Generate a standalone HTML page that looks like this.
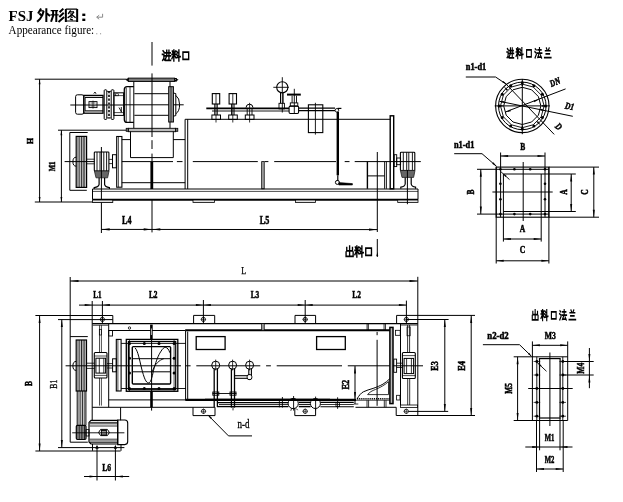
<!DOCTYPE html>
<html><head><meta charset="utf-8"><title>FSJ</title>
<style>
html,body{margin:0;padding:0;background:#fff;}
body{width:623px;height:502px;overflow:hidden;font-family:"Liberation Serif",serif;}
svg{display:block;position:absolute;left:0;top:0;will-change:transform;}
</style></head><body>
<svg width="623" height="502" viewBox="0 0 623 502">
<rect x="0" y="0" width="623" height="502" fill="#fff"/>
<text x="8.6" y="20.8" font-family="Liberation Serif, serif" font-size="14.6" font-weight="bold" text-anchor="start" fill="#000" textLength="24.8" lengthAdjust="spacingAndGlyphs">FSJ</text>
<path d="M3.4,0.2 L1.2,3.8 M5.3,1.9 L4.3,5 L2.6,7.8 L0.5,9.8 M2.2,3.8 L3.9,5.6 M7.2,0 L7.2,10 M7.4,3.6 L9.9,5.6" transform="translate(36.40 8.2) scale(1.380)" fill="none" stroke="#000" stroke-width="1.45" stroke-linecap="butt"/>
<path d="M2.8,1.9 L5.3,1.9" transform="translate(36.40 8.2) scale(1.380)" fill="none" stroke="#000" stroke-width="0.87" stroke-linecap="butt"/>
<path d="M1.9,1.7 L1.9,5.6 L0.4,9.8 M4.2,1.7 L4.2,10 M9.3,0.3 L6.6,2.9 M9.6,3.3 L6.4,6.4 M9.9,6.3 L5.8,10" transform="translate(50.50 8.2) scale(1.380)" fill="none" stroke="#000" stroke-width="1.45" stroke-linecap="butt"/>
<path d="M0.1,1.7 L5.5,1.7 M0,4.9 L5.9,4.9" transform="translate(50.50 8.2) scale(1.380)" fill="none" stroke="#000" stroke-width="0.87" stroke-linecap="butt"/>
<path d="M0.9,0.5 L0.9,10 M9.1,0.5 L9.1,10" transform="translate(64.60 8.2) scale(1.380)" fill="none" stroke="#000" stroke-width="1.45" stroke-linecap="butt"/>
<path d="M0.9,0.7 L9.1,0.7 M0.9,9.3 L9.1,9.3 M3.8,2.7 L6.8,2.7" transform="translate(64.60 8.2) scale(1.380)" fill="none" stroke="#000" stroke-width="0.80" stroke-linecap="butt"/>
<path d="M4.4,1.5 L2.6,4.2 M6.8,2.7 L5,5 L2.2,7 M4.2,3.8 L8,6.9 M4.4,6.1 L5.8,6.9 M3.8,7.7 L6,8.6" transform="translate(64.60 8.2) scale(1.380)" fill="none" stroke="#000" stroke-width="1.01" stroke-linecap="butt"/>
<rect x="82.3" y="13.6" width="3.00" height="2.40" rx="0" fill="#000" stroke="none" stroke-width="0"/>
<rect x="82.3" y="18.6" width="3.00" height="2.40" rx="0" fill="#000" stroke="none" stroke-width="0"/>
<path d="M102.6,13.8 L102.6,17.2 L97,17.2 M99.2,15.2 L96.6,17.2 L99.2,19.2" fill="none" stroke="#8a8a8a" stroke-width="1" />
<text x="8.6" y="34.2" font-family="Liberation Serif, serif" font-size="12" font-weight="normal" text-anchor="start" fill="#000" textLength="85.6" lengthAdjust="spacingAndGlyphs">Appearance figure:</text>
<rect x="96.2" y="33.2" width="1.10" height="1.10" rx="0" fill="#999" stroke="none" stroke-width="0"/>
<rect x="100" y="33.2" width="1.10" height="1.10" rx="0" fill="#999" stroke="none" stroke-width="0"/>
<line x1="34.8" y1="79.2" x2="126.7" y2="79.2" stroke="#000" stroke-width="1"/>
<line x1="39.6" y1="79.2" x2="39.6" y2="202" stroke="#000" stroke-width="1"/>
<line x1="34.8" y1="202" x2="113" y2="202" stroke="#000" stroke-width="1"/>
<polygon points="39.6,79.2 38.7,84.2 40.5,84.2" fill="#000"/>
<polygon points="39.6,202 38.7,197 40.5,197" fill="#000"/>
<line x1="58" y1="130.2" x2="126.7" y2="130.2" stroke="#000" stroke-width="1"/>
<line x1="61.4" y1="130.2" x2="61.4" y2="202" stroke="#000" stroke-width="1"/>
<polygon points="61.4,130.2 60.5,135.2 62.3,135.2" fill="#000"/>
<polygon points="61.4,202 60.5,197 62.3,197" fill="#000"/>
<text x="33.2" y="141" font-family="Liberation Serif, serif" font-size="9" font-weight="bold" text-anchor="middle" fill="#000" stroke="#000" stroke-width="0.5" textLength="6" lengthAdjust="spacingAndGlyphs" transform="rotate(-90 33.2 141)">H</text>
<text x="55" y="166.5" font-family="Liberation Serif, serif" font-size="9" font-weight="bold" text-anchor="middle" fill="#000" stroke="#000" stroke-width="0.5" textLength="9.5" lengthAdjust="spacingAndGlyphs" transform="rotate(-90 55 166.5)">M1</text>
<path d="M87.7,132.5 L69.8,132.5 L69.8,190.3 L86.8,190.3" fill="none" stroke="#000" stroke-width="1" />
<rect x="76.2" y="136.4" width="10.40" height="51.00" rx="0" fill="none" stroke="#000" stroke-width="1.2"/>
<line x1="78" y1="136.4" x2="78" y2="187.4" stroke="#000" stroke-width="0.85"/>
<line x1="79.8" y1="136.4" x2="79.8" y2="187.4" stroke="#000" stroke-width="0.85"/>
<line x1="81.6" y1="136.4" x2="81.6" y2="187.4" stroke="#000" stroke-width="0.85"/>
<line x1="83.2" y1="136.4" x2="83.2" y2="187.4" stroke="#000" stroke-width="0.85"/>
<line x1="84.8" y1="136.4" x2="84.8" y2="187.4" stroke="#000" stroke-width="0.85"/>
<path d="M76.2,157.2 A3.3,4.5 0 0 0 76.2,166.2" fill="none" stroke="#000" stroke-width="1" />
<line x1="64.6" y1="161.6" x2="94.5" y2="161.6" stroke="#000" stroke-width="1"/>
<line x1="86.6" y1="159.2" x2="94.5" y2="159.2" stroke="#000" stroke-width="0.8"/>
<line x1="86.6" y1="163.8" x2="94.5" y2="163.8" stroke="#000" stroke-width="0.8"/>
<rect x="94.3" y="152" width="14.60" height="19.00" rx="0.8" fill="none" stroke="#000" stroke-width="1.1"/>
<line x1="97" y1="152" x2="97" y2="171" stroke="#000" stroke-width="0.9"/>
<line x1="100" y1="152" x2="100" y2="171" stroke="#000" stroke-width="0.9"/>
<line x1="103.8" y1="152" x2="103.8" y2="171" stroke="#000" stroke-width="0.9"/>
<line x1="106.6" y1="152" x2="106.6" y2="171" stroke="#000" stroke-width="0.9"/>
<path d="M94.4,171 L109,171 L107.6,177.8 L96,177.8 Z" fill="#666" stroke="#222" stroke-width="0.8" />
<path d="M99.1,177.8 L99.1,184.4 Q98.7,187 94.2,187.6 L94.2,189 M104.6,177.8 L104.6,184.4 Q105,187 109.4,187.6 L109.4,189" fill="none" stroke="#000" stroke-width="1.2" />
<line x1="101.4" y1="147" x2="101.4" y2="233" stroke="#000" stroke-width="1"/>
<line x1="109" y1="159.4" x2="112.5" y2="159.4" stroke="#000" stroke-width="0.8"/>
<line x1="109" y1="163.6" x2="112.5" y2="163.6" stroke="#000" stroke-width="0.8"/>
<rect x="112.5" y="154.7" width="3.80" height="13.10" rx="0" fill="none" stroke="#000" stroke-width="1"/>
<rect x="116.7" y="136.5" width="5.20" height="50.70" rx="0" fill="none" stroke="#000" stroke-width="1.1"/>
<line x1="118.4" y1="136.5" x2="118.4" y2="187.2" stroke="#000" stroke-width="0.7"/>
<rect x="75.6" y="94.8" width="8.20" height="19.40" rx="1.8" fill="none" stroke="#000" stroke-width="1"/>
<rect x="83.8" y="95.4" width="19.20" height="17.80" rx="0" fill="none" stroke="#000" stroke-width="1.3"/>
<line x1="85" y1="97.4" x2="103" y2="97.4" stroke="#000" stroke-width="1.1"/>
<line x1="85" y1="110.9" x2="103" y2="110.9" stroke="#000" stroke-width="1.1"/>
<line x1="85.2" y1="97.4" x2="85.2" y2="110.9" stroke="#000" stroke-width="0.8"/>
<rect x="89" y="101.6" width="8.00" height="6.00" rx="0" fill="none" stroke="#000" stroke-width="0.9"/>
<line x1="93" y1="100.6" x2="93" y2="108.6" stroke="#000" stroke-width="0.7"/>
<line x1="90.5" y1="103" x2="95.5" y2="103" stroke="#000" stroke-width="0.6"/>
<line x1="90.5" y1="106" x2="95.5" y2="106" stroke="#000" stroke-width="0.6"/>
<path d="M93.8,93.6 L95,92 L96,93.8" fill="none" stroke="#000" stroke-width="0.9" />
<line x1="70.3" y1="105" x2="124.2" y2="105" stroke="#000" stroke-width="1"/>
<rect x="104.2" y="89.8" width="2.60" height="29.60" rx="0.8" fill="none" stroke="#000" stroke-width="1"/>
<rect x="111.2" y="89.8" width="2.70" height="29.60" rx="0.8" fill="none" stroke="#000" stroke-width="1"/>
<line x1="109" y1="91" x2="109" y2="118.4" stroke="#000" stroke-width="1.6" stroke-dasharray="2.2 1.6"/>
<line x1="106.8" y1="91.5" x2="111.2" y2="91.5" stroke="#000" stroke-width="0.7"/>
<line x1="106.8" y1="117.8" x2="111.2" y2="117.8" stroke="#000" stroke-width="0.7"/>
<rect x="113.9" y="92.8" width="9.70" height="22.60" rx="0" fill="none" stroke="#000" stroke-width="1"/>
<line x1="113.9" y1="95.6" x2="123.6" y2="95.6" stroke="#000" stroke-width="0.7"/>
<line x1="113.9" y1="112.6" x2="123.6" y2="112.6" stroke="#000" stroke-width="0.7"/>
<path d="M119,107.5 L121.5,112 M121.3,107 L121.3,112.4" fill="none" stroke="#000" stroke-width="0.9" />
<rect x="115.5" y="93.8" width="2.90" height="2.00" rx="0" fill="none" stroke="#000" stroke-width="0.6"/>
<path d="M133.8,86.6 L127.2,86.6 Q124.3,86.6 124.3,89.6 L124.3,119.4 Q124.3,122.4 127.2,122.4 L133.8,122.4" fill="none" stroke="#000" stroke-width="1.3" />
<line x1="126.2" y1="87.6" x2="126.2" y2="121.8" stroke="#000" stroke-width="0.8"/>
<line x1="130" y1="87" x2="130" y2="122.4" stroke="#000" stroke-width="0.8"/>
<rect x="128.3" y="78.1" width="46.30" height="3.40" rx="0" fill="#777" stroke="#000" stroke-width="0.9"/>
<polygon points="125.4,79.8 128.6,77.8 128.6,81.8" fill="#000"/>
<rect x="174.6" y="78.4" width="1.80" height="2.80" rx="0" fill="#777" stroke="#000" stroke-width="0.8"/>
<polygon points="178.6,79.8 176.2,78.39999999999999 176.2,81.2" fill="#000"/>
<rect x="128.3" y="128.3" width="47.30" height="3.40" rx="0" fill="#bbb" stroke="#000" stroke-width="0.9"/>
<rect x="126.2" y="128.3" width="2.10" height="3.00" rx="0" fill="#777" stroke="#000" stroke-width="0.8"/>
<rect x="175.6" y="128.3" width="2.20" height="3.00" rx="0" fill="#777" stroke="#000" stroke-width="0.8"/>
<line x1="133.8" y1="81.5" x2="133.8" y2="128.1" stroke="#000" stroke-width="1"/>
<line x1="170" y1="81.5" x2="170" y2="128.1" stroke="#000" stroke-width="1"/>
<line x1="134.4" y1="93.7" x2="168.7" y2="93.7" stroke="#000" stroke-width="1"/>
<line x1="134.4" y1="115.3" x2="168.7" y2="115.3" stroke="#000" stroke-width="1"/>
<line x1="124.2" y1="104.8" x2="183.7" y2="104.8" stroke="#000" stroke-width="1"/>
<rect x="168.7" y="86.7" width="4.70" height="35.30" rx="0" fill="#999" stroke="#000" stroke-width="1"/>
<line x1="171" y1="86.7" x2="171" y2="122" stroke="#000" stroke-width="0.7"/>
<path d="M173.4,93 L175.8,93.6 L175.8,115.6 L173.4,116.2 M175.8,95.4 Q179.6,98 179.6,104.6 Q179.6,111.4 175.8,113.8" fill="none" stroke="#000" stroke-width="1" />
<line x1="152" y1="42" x2="152" y2="65.6" stroke="#000" stroke-width="1"/>
<line x1="152" y1="73.4" x2="152" y2="137" stroke="#000" stroke-width="1"/>
<line x1="152" y1="140.2" x2="152" y2="149" stroke="#000" stroke-width="1"/>
<line x1="152" y1="153.6" x2="152" y2="162" stroke="#000" stroke-width="1"/>
<path d="M1,0.8 L2.2,2 M0.2,4 L2,4 L2,8 L0.6,9.4 M1.6,8.2 L3.4,9.5 L10,9.5 M3.6,2.6 L9.6,2.6 M3.2,5.4 L10,5.4 M5.4,0.4 L5.4,5.4 L4,8 M8,0.4 L8,8.4" transform="translate(162.20 50) scale(0.842 1.080)" fill="none" stroke="#000" stroke-width="1.62" stroke-linecap="square"/>
<path d="M2.3,0 L2.3,10 M0,4 L4.8,4 M0.5,1 L1.4,3 M4.2,1 L3.3,3 M2.3,4.2 L0,8 M2.3,4.2 L4.6,7 M5.8,1.4 L6.9,2.6 M5.5,4 L6.6,5.1 M5,7.2 L10,6.2 M8.3,0 L8.3,10" transform="translate(171.90 50) scale(0.842 1.080)" fill="none" stroke="#000" stroke-width="1.62" stroke-linecap="square"/>
<path d="M1.6,2 L8.4,2 L8.4,8.6 L1.6,8.6 Z" transform="translate(181.60 50) scale(0.842 1.080)" fill="none" stroke="#000" stroke-width="1.62" stroke-linecap="square"/>
<path d="M130.5,131.5 L130.5,157.6 L173.3,157.6 L173.3,131.5" fill="none" stroke="#000" stroke-width="1" />
<line x1="121.8" y1="139.6" x2="130.6" y2="139.6" stroke="#000" stroke-width="1"/>
<line x1="173.2" y1="139.6" x2="185.1" y2="139.6" stroke="#000" stroke-width="1"/>
<line x1="121.8" y1="182.7" x2="185.1" y2="182.7" stroke="#000" stroke-width="1"/>
<line x1="151.8" y1="162" x2="151.8" y2="189" stroke="#000" stroke-width="2.8"/>
<line x1="185.1" y1="119.3" x2="185.1" y2="189" stroke="#000" stroke-width="1"/>
<line x1="187.7" y1="119.3" x2="187.7" y2="189" stroke="#000" stroke-width="1"/>
<line x1="185.1" y1="119.3" x2="390.6" y2="119.3" stroke="#000" stroke-width="1"/>
<rect x="390.2" y="115.8" width="3.50" height="73.00" rx="0" fill="none" stroke="#000" stroke-width="1.4"/>
<line x1="121.9" y1="161.6" x2="173" y2="161.6" stroke="#000" stroke-width="1"/>
<line x1="176.9" y1="161.6" x2="182.5" y2="161.6" stroke="#000" stroke-width="1"/>
<line x1="192.8" y1="161.6" x2="257.8" y2="161.6" stroke="#000" stroke-width="1"/>
<line x1="264.5" y1="161.6" x2="268.4" y2="161.6" stroke="#000" stroke-width="1"/>
<line x1="274.2" y1="161.6" x2="336" y2="161.6" stroke="#000" stroke-width="1"/>
<line x1="344.7" y1="161.6" x2="349.5" y2="161.6" stroke="#000" stroke-width="1"/>
<line x1="354.7" y1="161.6" x2="420.8" y2="161.6" stroke="#000" stroke-width="1"/>
<rect x="261.7" y="161.6" width="2.50" height="27.20" rx="0" fill="#aaa" stroke="#000" stroke-width="0.8"/>
<line x1="92.5" y1="189" x2="418" y2="189" stroke="#000" stroke-width="1"/>
<line x1="92.5" y1="191.4" x2="418" y2="191.4" stroke="#000" stroke-width="0.7"/>
<line x1="92.5" y1="199.8" x2="418" y2="199.8" stroke="#000" stroke-width="2"/>
<line x1="92.5" y1="189" x2="92.5" y2="199.5" stroke="#000" stroke-width="1"/>
<line x1="418" y1="189" x2="418" y2="199.5" stroke="#000" stroke-width="1"/>
<rect x="92.5" y="200" width="20.30" height="2.40" rx="0" fill="#e4e4e4" stroke="#000" stroke-width="0.8"/>
<rect x="193" y="200" width="21.40" height="2.40" rx="0" fill="#e4e4e4" stroke="#000" stroke-width="0.8"/>
<rect x="295.4" y="200" width="20.10" height="2.40" rx="0" fill="#e4e4e4" stroke="#000" stroke-width="0.8"/>
<rect x="397.7" y="200" width="20.30" height="2.40" rx="0" fill="#e4e4e4" stroke="#000" stroke-width="0.8"/>
<rect x="212.3" y="93.6" width="7.40" height="10.40" rx="0" fill="none" stroke="#000" stroke-width="1.1"/>
<line x1="214.7" y1="104" x2="214.7" y2="115" stroke="#000" stroke-width="0.9"/>
<line x1="217.3" y1="104" x2="217.3" y2="115" stroke="#000" stroke-width="0.9"/>
<rect x="211.9" y="115" width="8.60" height="4.40" rx="0" fill="none" stroke="#000" stroke-width="1"/>
<line x1="216" y1="93.6" x2="216" y2="122.5" stroke="#000" stroke-width="0.8"/>
<rect x="229.10000000000002" y="93.6" width="7.40" height="10.40" rx="0" fill="none" stroke="#000" stroke-width="1.1"/>
<line x1="231.5" y1="104" x2="231.5" y2="115" stroke="#000" stroke-width="0.9"/>
<line x1="234.10000000000002" y1="104" x2="234.10000000000002" y2="115" stroke="#000" stroke-width="0.9"/>
<rect x="228.70000000000002" y="115" width="8.60" height="4.40" rx="0" fill="none" stroke="#000" stroke-width="1"/>
<line x1="232.8" y1="93.6" x2="232.8" y2="122.5" stroke="#000" stroke-width="0.8"/>
<line x1="206.3" y1="108.4" x2="289" y2="108.4" stroke="#000" stroke-width="1.9"/>
<line x1="212" y1="111" x2="289" y2="111" stroke="#000" stroke-width="0.9"/>
<line x1="298.6" y1="108.2" x2="335" y2="108.2" stroke="#000" stroke-width="1.2"/>
<line x1="298.6" y1="110.7" x2="335" y2="110.7" stroke="#000" stroke-width="1.2"/>
<path d="M246,107.6 Q246.2,104.2 249.5,104.2 Q252.8,104.2 253,107.6" fill="none" stroke="#000" stroke-width="1" />
<line x1="247.2" y1="109" x2="247.2" y2="115" stroke="#000" stroke-width="0.9"/>
<line x1="252" y1="109" x2="252" y2="115" stroke="#000" stroke-width="0.9"/>
<rect x="245.3" y="115" width="8.70" height="4.40" rx="0" fill="none" stroke="#000" stroke-width="1"/>
<line x1="249.6" y1="102.8" x2="249.6" y2="122.5" stroke="#000" stroke-width="0.8"/>
<circle cx="282.3" cy="87.3" r="5.6" fill="none" stroke="#000" stroke-width="1.1"/>
<line x1="273.3" y1="87.3" x2="288.9" y2="87.3" stroke="#000" stroke-width="0.9"/>
<line x1="282.3" y1="77.2" x2="282.3" y2="112.5" stroke="#000" stroke-width="0.9"/>
<line x1="280.5" y1="93" x2="280.5" y2="103.3" stroke="#000" stroke-width="1"/>
<line x1="283.1" y1="93" x2="283.1" y2="103.3" stroke="#000" stroke-width="1"/>
<rect x="279" y="103.3" width="5.40" height="5.60" rx="0" fill="none" stroke="#000" stroke-width="0.9"/>
<line x1="287" y1="94.6" x2="300.8" y2="94.6" stroke="#000" stroke-width="2"/>
<line x1="294.3" y1="88.8" x2="294.3" y2="113" stroke="#000" stroke-width="0.9"/>
<line x1="292.1" y1="95.7" x2="292.1" y2="102.9" stroke="#000" stroke-width="0.9"/>
<line x1="296.5" y1="95.7" x2="296.5" y2="102.9" stroke="#000" stroke-width="0.9"/>
<rect x="290.3" y="102.9" width="7.50" height="3.20" rx="0" fill="none" stroke="#000" stroke-width="0.9"/>
<rect x="289.1" y="106.1" width="9.50" height="7.40" rx="1.2" fill="none" stroke="#000" stroke-width="1.1"/>
<rect x="308.4" y="104.8" width="14.40" height="27.80" rx="0" fill="none" stroke="#000" stroke-width="1.1"/>
<line x1="315.4" y1="102.8" x2="315.4" y2="134.6" stroke="#000" stroke-width="0.9"/>
<line x1="337.8" y1="112" x2="337.8" y2="175.3" stroke="#000" stroke-width="2.4"/>
<line x1="337.8" y1="175.3" x2="337.8" y2="181" stroke="#000" stroke-width="1.2"/>
<circle cx="337.4" cy="182.4" r="2" fill="none" stroke="#000" stroke-width="1"/>
<path d="M338.8,182.6 L352.4,183.6 L352.4,185 L338.8,185 Z" fill="#000" stroke="#000" stroke-width="0.6" />
<circle cx="336.9" cy="110.3" r="1.8" fill="none" stroke="#000" stroke-width="0.9"/>
<path d="M337.6,108.4 L341.4,108.4" fill="none" stroke="#000" stroke-width="1.2" />
<line x1="367.4" y1="161.6" x2="367.4" y2="188.8" stroke="#000" stroke-width="1.4"/>
<line x1="384.7" y1="161.6" x2="384.7" y2="188.8" stroke="#000" stroke-width="1"/>
<line x1="386.5" y1="161.6" x2="386.5" y2="188.8" stroke="#000" stroke-width="0.8"/>
<line x1="367.4" y1="175.9" x2="384.7" y2="175.9" stroke="#000" stroke-width="1"/>
<line x1="377.3" y1="152" x2="377.3" y2="232" stroke="#000" stroke-width="1"/>
<line x1="377.3" y1="239" x2="377.3" y2="257" stroke="#000" stroke-width="1"/>
<polygon points="377.3,252 376.40000000000003,256 378.2,256" fill="#000"/>
<rect x="394.2" y="154.7" width="2.50" height="11.90" rx="0" fill="none" stroke="#000" stroke-width="0.9"/>
<rect x="396.7" y="158" width="3.90" height="6.70" rx="0" fill="none" stroke="#000" stroke-width="0.9"/>
<rect x="400.4" y="152.3" width="14.40" height="18.30" rx="0.8" fill="none" stroke="#000" stroke-width="1.1"/>
<line x1="403.3" y1="152.3" x2="403.3" y2="170.6" stroke="#000" stroke-width="0.9"/>
<line x1="406.7" y1="152.3" x2="406.7" y2="170.6" stroke="#000" stroke-width="0.9"/>
<line x1="408.8" y1="152.3" x2="408.8" y2="170.6" stroke="#000" stroke-width="0.9"/>
<line x1="412.4" y1="152.3" x2="412.4" y2="170.6" stroke="#000" stroke-width="0.9"/>
<path d="M400.4,170.4 L415,170.4 L413.6,177.4 L402,177.4 Z" fill="#666" stroke="#222" stroke-width="0.8" />
<path d="M405.2,177.4 L405.2,184 Q404.8,186.6 400.8,187.2 L400.8,188.8 M411.2,177.4 L411.2,184 Q411.6,186.6 415.6,187.2 L415.6,188.8" fill="none" stroke="#000" stroke-width="1.2" />
<line x1="407.4" y1="170" x2="407.4" y2="204.2" stroke="#000" stroke-width="1"/>
<line x1="152" y1="199.5" x2="152" y2="232.4" stroke="#000" stroke-width="1"/>
<line x1="101.4" y1="229.4" x2="377.3" y2="229.6" stroke="#000" stroke-width="1"/>
<polygon points="101.4,229.4 109.7,228.35 109.7,230.45000000000002" fill="#000"/>
<polygon points="152,229.4 143.7,228.35 143.7,230.45000000000002" fill="#000"/>
<polygon points="152,229.4 160.3,228.35 160.3,230.45000000000002" fill="#000"/>
<polygon points="377.3,229.6 369.0,228.54999999999998 369.0,230.65" fill="#000"/>
<text x="126.8" y="223.9" font-family="Liberation Serif, serif" font-size="11.5" font-weight="bold" text-anchor="middle" fill="#000" stroke="#000" stroke-width="0.5" textLength="9.5" lengthAdjust="spacingAndGlyphs">L4</text>
<text x="264.5" y="223.9" font-family="Liberation Serif, serif" font-size="11.5" font-weight="bold" text-anchor="middle" fill="#000" stroke="#000" stroke-width="0.5" textLength="9.5" lengthAdjust="spacingAndGlyphs">L5</text>
<path d="M5,0 L5,9.5 M1.6,1.6 L1.6,4.6 L8.4,4.6 L8.4,1.6 M0.8,5.6 L0.8,9.5 L9.2,9.5 L9.2,5.6" transform="translate(345.40 246) scale(0.842 1.080)" fill="none" stroke="#000" stroke-width="1.62" stroke-linecap="square"/>
<path d="M2.3,0 L2.3,10 M0,4 L4.8,4 M0.5,1 L1.4,3 M4.2,1 L3.3,3 M2.3,4.2 L0,8 M2.3,4.2 L4.6,7 M5.8,1.4 L6.9,2.6 M5.5,4 L6.6,5.1 M5,7.2 L10,6.2 M8.3,0 L8.3,10" transform="translate(354.90 246) scale(0.842 1.080)" fill="none" stroke="#000" stroke-width="1.62" stroke-linecap="square"/>
<path d="M1.6,2 L8.4,2 L8.4,8.6 L1.6,8.6 Z" transform="translate(364.40 246) scale(0.842 1.080)" fill="none" stroke="#000" stroke-width="1.62" stroke-linecap="square"/>
<path d="M1,0.8 L2.2,2 M0.2,4 L2,4 L2,8 L0.6,9.4 M1.6,8.2 L3.4,9.5 L10,9.5 M3.6,2.6 L9.6,2.6 M3.2,5.4 L10,5.4 M5.4,0.4 L5.4,5.4 L4,8 M8,0.4 L8,8.4" transform="translate(506.70 47.8) scale(0.693 1.050)" fill="none" stroke="#000" stroke-width="1.62" stroke-linecap="square"/>
<path d="M2.3,0 L2.3,10 M0,4 L4.8,4 M0.5,1 L1.4,3 M4.2,1 L3.3,3 M2.3,4.2 L0,8 M2.3,4.2 L4.6,7 M5.8,1.4 L6.9,2.6 M5.5,4 L6.6,5.1 M5,7.2 L10,6.2 M8.3,0 L8.3,10" transform="translate(516.10 47.8) scale(0.693 1.050)" fill="none" stroke="#000" stroke-width="1.62" stroke-linecap="square"/>
<path d="M1.6,2 L8.4,2 L8.4,8.6 L1.6,8.6 Z" transform="translate(525.50 47.8) scale(0.693 1.050)" fill="none" stroke="#000" stroke-width="1.62" stroke-linecap="square"/>
<path d="M0.5,1 L1.8,2 M0,3.8 L1.5,4.8 M0.3,9.5 L2,6.5 M4.3,2 L9,2 M6.6,0 L6.6,5 M3.3,5 L10,5 M6.2,5 L4.2,9 L9,8.6 M8,7 L9.6,9.6" transform="translate(534.90 47.8) scale(0.693 1.050)" fill="none" stroke="#000" stroke-width="1.62" stroke-linecap="square"/>
<path d="M3,0.3 L4,2 M7,0.3 L6,2 M1.5,2.8 L8.5,2.8 M2.5,5.8 L7.5,5.8 M0.3,9.3 L9.7,9.3" transform="translate(544.30 47.8) scale(0.693 1.050)" fill="none" stroke="#000" stroke-width="1.62" stroke-linecap="square"/>
<circle cx="522.3" cy="105.9" r="26.7" fill="none" stroke="#000" stroke-width="1.1"/>
<circle cx="522.3" cy="105.9" r="23.8" fill="none" stroke="#000" stroke-width="1"/>
<polygon points="540.9,105.9 538.4,115.2 531.6,122.0 522.3,124.5 513.0,122.0 506.2,115.2 503.7,105.9 506.2,96.6 513.0,89.8 522.3,87.3 531.6,89.8 538.4,96.6" fill="none" stroke="#000" stroke-width="1"/>
<polygon points="544.1,105.9 541.2,116.8 533.2,124.8 522.3,127.7 511.4,124.8 503.4,116.8 500.5,105.9 503.4,95.0 511.4,87.0 522.3,84.1 533.2,87.0 541.2,95.0" fill="none" stroke="#000" stroke-width="0.9"/>
<circle cx="545.5" cy="105.9" r="1.5" fill="#000"/>
<circle cx="542.3917893677989" cy="117.5" r="1.5" fill="#000"/>
<circle cx="533.9" cy="125.99178936779899" r="1.5" fill="#000"/>
<circle cx="522.3" cy="129.1" r="1.5" fill="#000"/>
<circle cx="510.69999999999993" cy="125.99178936779899" r="1.5" fill="#000"/>
<circle cx="502.208210632201" cy="117.5" r="1.5" fill="#000"/>
<circle cx="499.09999999999997" cy="105.9" r="1.5" fill="#000"/>
<circle cx="502.208210632201" cy="94.30000000000001" r="1.5" fill="#000"/>
<circle cx="510.69999999999993" cy="85.80821063220104" r="1.5" fill="#000"/>
<circle cx="522.3" cy="82.7" r="1.5" fill="#000"/>
<circle cx="533.9" cy="85.80821063220102" r="1.5" fill="#000"/>
<circle cx="542.3917893677989" cy="94.3" r="1.5" fill="#000"/>
<line x1="494.7" y1="105.9" x2="549.8" y2="105.9" stroke="#000" stroke-width="1"/>
<line x1="522.3" y1="79" x2="522.3" y2="134.2" stroke="#000" stroke-width="1"/>
<line x1="504.3" y1="82.2" x2="554.2" y2="134.4" stroke="#000" stroke-width="1"/>
<line x1="505.3" y1="112" x2="565.6" y2="88.9" stroke="#000" stroke-width="1"/>
<line x1="499.5" y1="101.3" x2="572.8" y2="116.3" stroke="#000" stroke-width="1"/>
<polygon points="0,0 -5,-0.9 -5,0.9" fill="#000" transform="translate(538.7310155063507 99.59272408800273) rotate(-21)"/>
<polygon points="0,0 -5,-0.9 -5,0.9" fill="#000" transform="translate(505.8689844936492 112.20727591199729) rotate(159)"/>
<polygon points="0,0 -5,-0.9 -5,0.9" fill="#000" transform="translate(545.6138909404643 110.68565452327397) rotate(11.6)"/>
<polygon points="0,0 -5,-0.9 -5,0.9" fill="#000" transform="translate(498.9861090595356 101.11434547672604) rotate(191.6)"/>
<polygon points="0,0 -5,-0.9 -5,0.9" fill="#000" transform="translate(540.7465603757521 125.20322279578548) rotate(46.3)"/>
<polygon points="0,0 -5,-0.9 -5,0.9" fill="#000" transform="translate(503.8534396242478 86.59677720421453) rotate(226.3)"/>
<polygon points="0,0 -4,-0.8 -4,0.8" fill="#000" transform="translate(522.3 82.10000000000001) rotate(-90)"/>
<polygon points="0,0 -4,-0.8 -4,0.8" fill="#000" transform="translate(522.3 129.70000000000002) rotate(90)"/>
<polygon points="0,0 -4,-0.8 -4,0.8" fill="#000" transform="translate(498.49999999999994 105.9) rotate(180)"/>
<polygon points="0,0 -4,-0.8 -4,0.8" fill="#000" transform="translate(546.0999999999999 105.9) rotate(0)"/>
<path d="M465.8,77 L495.6,77 L506.2,84.1" fill="none" stroke="#000" stroke-width="1" />
<polygon points="0,0 -4,-0.9 -4,0.9" fill="#000" transform="translate(506.2 84.1) rotate(34)"/>
<text x="476" y="70" font-family="Liberation Serif, serif" font-size="9.6" font-weight="bold" text-anchor="middle" fill="#000" stroke="#000" stroke-width="0.5" textLength="20.5" lengthAdjust="spacingAndGlyphs">n1-d1</text>
<text x="556.2" y="85" font-family="Liberation Serif, serif" font-size="9.6" font-weight="bold" font-style="italic" text-anchor="middle" fill="#000" stroke="#000" stroke-width="0.5" textLength="10.5" lengthAdjust="spacingAndGlyphs" transform="rotate(-22 556.2 85)">DN</text>
<text x="569" y="109.4" font-family="Liberation Serif, serif" font-size="9.6" font-weight="bold" font-style="italic" text-anchor="middle" fill="#000" stroke="#000" stroke-width="0.5" textLength="9" lengthAdjust="spacingAndGlyphs" transform="rotate(12 569 109.4)">D1</text>
<text x="556.6" y="128.8" font-family="Liberation Serif, serif" font-size="9.6" font-weight="bold" font-style="italic" text-anchor="middle" fill="#000" stroke="#000" stroke-width="0.5" textLength="5.5" lengthAdjust="spacingAndGlyphs" transform="rotate(42 556.6 128.8)">D</text>
<text x="464.2" y="148" font-family="Liberation Serif, serif" font-size="9.6" font-weight="bold" text-anchor="middle" fill="#000" stroke="#000" stroke-width="0.5" textLength="20.5" lengthAdjust="spacingAndGlyphs">n1-d1</text>
<path d="M454.2,153.7 L482,153.7 L496.6,166.4" fill="none" stroke="#000" stroke-width="1" />
<polygon points="0,0 -5,-1 -5,1" fill="#000" transform="translate(496.6 166.4) rotate(41)"/>
<path d="M500.8,171.6 L509.5,179.6" fill="none" stroke="#000" stroke-width="0.9" />
<polygon points="0,0 -4,-0.9 -4,0.9" fill="#000" transform="translate(503 173.6) rotate(222.6)"/>
<text x="522.8" y="149.8" font-family="Liberation Serif, serif" font-size="9.6" font-weight="bold" text-anchor="middle" fill="#000" stroke="#000" stroke-width="0.5" textLength="5" lengthAdjust="spacingAndGlyphs">B</text>
<line x1="500.6" y1="152.5" x2="500.6" y2="217.2" stroke="#000" stroke-width="1"/>
<line x1="545" y1="152.5" x2="545" y2="217.2" stroke="#000" stroke-width="1"/>
<line x1="500.6" y1="156" x2="545" y2="156" stroke="#000" stroke-width="1"/>
<polygon points="500.6,156 508.1,155.0 508.1,157.0" fill="#000"/>
<polygon points="545,156 537.5,155.0 537.5,157.0" fill="#000"/>
<rect x="496.2" y="167.1" width="52.70" height="50.10" rx="0" fill="none" stroke="#000" stroke-width="1.1"/>
<line x1="477" y1="169.3" x2="548.9" y2="169.3" stroke="#000" stroke-width="1"/>
<line x1="477" y1="214.1" x2="548.9" y2="214.1" stroke="#000" stroke-width="1"/>
<line x1="503.4" y1="174" x2="575.8" y2="174" stroke="#000" stroke-width="1"/>
<line x1="503.4" y1="211.5" x2="575.8" y2="211.5" stroke="#000" stroke-width="1"/>
<line x1="503.4" y1="174" x2="503.4" y2="241.6" stroke="#000" stroke-width="1"/>
<line x1="541.2" y1="174" x2="541.2" y2="241.6" stroke="#000" stroke-width="1"/>
<line x1="496.2" y1="167.1" x2="496.2" y2="263.5" stroke="#000" stroke-width="1"/>
<line x1="548.9" y1="167.1" x2="548.9" y2="263.5" stroke="#000" stroke-width="1"/>
<line x1="548.9" y1="167.1" x2="599" y2="167.1" stroke="#000" stroke-width="1"/>
<line x1="548.9" y1="217.2" x2="599" y2="217.2" stroke="#000" stroke-width="1"/>
<line x1="593.8" y1="167.1" x2="593.8" y2="217.2" stroke="#000" stroke-width="1"/>
<polygon points="593.8,167.1 592.8,174.6 594.8,174.6" fill="#000"/>
<polygon points="593.8,217.2 592.8,209.7 594.8,209.7" fill="#000"/>
<line x1="571.2" y1="174" x2="571.2" y2="211.5" stroke="#000" stroke-width="1"/>
<polygon points="571.2,174 570.2,181.5 572.2,181.5" fill="#000"/>
<polygon points="571.2,211.5 570.2,204.0 572.2,204.0" fill="#000"/>
<line x1="480.8" y1="169.3" x2="480.8" y2="214.1" stroke="#000" stroke-width="1"/>
<polygon points="480.8,169.3 479.8,176.8 481.8,176.8" fill="#000"/>
<polygon points="480.8,214.1 479.8,206.6 481.8,206.6" fill="#000"/>
<text x="474" y="192" font-family="Liberation Serif, serif" font-size="9.6" font-weight="bold" text-anchor="middle" fill="#000" stroke="#000" stroke-width="0.5" textLength="5" lengthAdjust="spacingAndGlyphs" transform="rotate(-90 474 192)">B</text>
<text x="566.6" y="192" font-family="Liberation Serif, serif" font-size="9.6" font-weight="bold" text-anchor="middle" fill="#000" stroke="#000" stroke-width="0.5" textLength="5.5" lengthAdjust="spacingAndGlyphs" transform="rotate(-90 566.6 192)">A</text>
<text x="588.4" y="192" font-family="Liberation Serif, serif" font-size="9.6" font-weight="bold" text-anchor="middle" fill="#000" stroke="#000" stroke-width="0.5" textLength="5.5" lengthAdjust="spacingAndGlyphs" transform="rotate(-90 588.4 192)">C</text>
<line x1="492.4" y1="192" x2="552.7" y2="192" stroke="#000" stroke-width="1"/>
<line x1="523.2" y1="162" x2="523.2" y2="221" stroke="#000" stroke-width="1"/>
<circle cx="500.4" cy="169.3" r="1.3" fill="#000"/>
<circle cx="500.4" cy="214.1" r="1.3" fill="#000"/>
<circle cx="514.4" cy="169.3" r="1.3" fill="#000"/>
<circle cx="514.4" cy="214.1" r="1.3" fill="#000"/>
<circle cx="530.2" cy="169.3" r="1.3" fill="#000"/>
<circle cx="530.2" cy="214.1" r="1.3" fill="#000"/>
<circle cx="545" cy="169.3" r="1.3" fill="#000"/>
<circle cx="545" cy="214.1" r="1.3" fill="#000"/>
<circle cx="500.4" cy="183.8" r="1.3" fill="#000"/>
<circle cx="545" cy="183.8" r="1.3" fill="#000"/>
<circle cx="500.4" cy="199.2" r="1.3" fill="#000"/>
<circle cx="545" cy="199.2" r="1.3" fill="#000"/>
<text x="522.6" y="232" font-family="Liberation Serif, serif" font-size="9.6" font-weight="bold" text-anchor="middle" fill="#000" stroke="#000" stroke-width="0.5" textLength="5.5" lengthAdjust="spacingAndGlyphs">A</text>
<line x1="503.4" y1="239" x2="541.2" y2="239" stroke="#000" stroke-width="1"/>
<polygon points="503.4,239 510.9,238.0 510.9,240.0" fill="#000"/>
<polygon points="541.2,239 533.7,238.0 533.7,240.0" fill="#000"/>
<text x="522.6" y="253" font-family="Liberation Serif, serif" font-size="9.6" font-weight="bold" text-anchor="middle" fill="#000" stroke="#000" stroke-width="0.5" textLength="5.5" lengthAdjust="spacingAndGlyphs">C</text>
<line x1="496.2" y1="260.8" x2="548.9" y2="260.8" stroke="#000" stroke-width="1"/>
<polygon points="496.2,260.8 503.7,259.8 503.7,261.8" fill="#000"/>
<polygon points="548.9,260.8 541.4,259.8 541.4,261.8" fill="#000"/>
<line x1="70.2" y1="277" x2="70.2" y2="442.2" stroke="#000" stroke-width="1"/>
<line x1="70.2" y1="281" x2="417.8" y2="281" stroke="#000" stroke-width="1"/>
<line x1="417.8" y1="276.8" x2="417.8" y2="415.5" stroke="#000" stroke-width="1"/>
<polygon points="70.2,281 78.5,279.95 78.5,282.05" fill="#000"/>
<polygon points="417.8,281 409.5,279.95 409.5,282.05" fill="#000"/>
<text x="243.8" y="274.4" font-family="Liberation Serif, serif" font-size="10" font-weight="normal" text-anchor="middle" fill="#000" stroke="#000" stroke-width="0.25" textLength="5" lengthAdjust="spacingAndGlyphs">L</text>
<line x1="79" y1="305.1" x2="406.4" y2="305.1" stroke="#000" stroke-width="1"/>
<line x1="92.2" y1="301" x2="92.2" y2="420.3" stroke="#000" stroke-width="1"/>
<line x1="102.4" y1="301" x2="102.4" y2="323.6" stroke="#000" stroke-width="1"/>
<line x1="203.4" y1="300" x2="203.4" y2="323" stroke="#000" stroke-width="1"/>
<line x1="305.2" y1="300" x2="305.2" y2="323" stroke="#000" stroke-width="1"/>
<line x1="406.4" y1="300.6" x2="406.4" y2="323" stroke="#000" stroke-width="1"/>
<polygon points="92.2,305.1 84.7,304.1 84.7,306.1" fill="#000"/>
<polygon points="102.4,305.1 109.9,304.1 109.9,306.1" fill="#000"/>
<polygon points="203.4,305.1 195.9,304.1 195.9,306.1" fill="#000"/>
<polygon points="203.4,305.1 210.9,304.1 210.9,306.1" fill="#000"/>
<polygon points="305.2,305.1 297.7,304.1 297.7,306.1" fill="#000"/>
<polygon points="305.2,305.1 312.7,304.1 312.7,306.1" fill="#000"/>
<polygon points="406.4,305.1 398.9,304.1 398.9,306.1" fill="#000"/>
<text x="97.4" y="298.4" font-family="Liberation Serif, serif" font-size="9.5" font-weight="bold" text-anchor="middle" fill="#000" stroke="#000" stroke-width="0.5" textLength="8.2" lengthAdjust="spacingAndGlyphs">L1</text>
<text x="153.2" y="298.4" font-family="Liberation Serif, serif" font-size="9.5" font-weight="bold" text-anchor="middle" fill="#000" stroke="#000" stroke-width="0.5" textLength="8.6" lengthAdjust="spacingAndGlyphs">L2</text>
<text x="255" y="298.4" font-family="Liberation Serif, serif" font-size="9.5" font-weight="bold" text-anchor="middle" fill="#000" stroke="#000" stroke-width="0.5" textLength="8.6" lengthAdjust="spacingAndGlyphs">L3</text>
<text x="356.6" y="298.4" font-family="Liberation Serif, serif" font-size="9.5" font-weight="bold" text-anchor="middle" fill="#000" stroke="#000" stroke-width="0.5" textLength="8.6" lengthAdjust="spacingAndGlyphs">L2</text>
<line x1="35.4" y1="315.5" x2="112.8" y2="315.5" stroke="#000" stroke-width="1"/>
<line x1="39.6" y1="315.5" x2="39.6" y2="451" stroke="#000" stroke-width="1"/>
<line x1="35.4" y1="451" x2="120.6" y2="451" stroke="#000" stroke-width="1"/>
<polygon points="39.6,315.5 38.6,323.0 40.6,323.0" fill="#000"/>
<polygon points="39.6,451 38.6,443.5 40.6,443.5" fill="#000"/>
<line x1="58" y1="319.6" x2="112.8" y2="319.6" stroke="#000" stroke-width="1"/>
<line x1="61.8" y1="319.6" x2="61.8" y2="447.6" stroke="#000" stroke-width="1"/>
<line x1="58" y1="447.6" x2="124.4" y2="447.6" stroke="#000" stroke-width="1"/>
<polygon points="61.8,319.6 60.8,327.1 62.8,327.1" fill="#000"/>
<polygon points="61.8,447.6 60.8,440.1 62.8,440.1" fill="#000"/>
<text x="32.4" y="383.6" font-family="Liberation Serif, serif" font-size="9.6" font-weight="bold" text-anchor="middle" fill="#000" stroke="#000" stroke-width="0.5" textLength="5" lengthAdjust="spacingAndGlyphs" transform="rotate(-90 32.4 383.6)">B</text>
<text x="57.2" y="384.2" font-family="Liberation Serif, serif" font-size="11" font-weight="normal" text-anchor="middle" fill="#000" stroke="#000" stroke-width="0.3" textLength="8.9" lengthAdjust="spacingAndGlyphs" transform="rotate(-90 57.2 384.2)">B1</text>
<line x1="112.8" y1="315.5" x2="112.8" y2="323.6" stroke="#000" stroke-width="1"/>
<path d="M193.6,323.6 L193.6,315.4 L214.7,315.4 L214.7,323.6" fill="none" stroke="#000" stroke-width="1" />
<path d="M295,323.6 L295,315.4 L315.6,315.4 L315.6,323.6" fill="none" stroke="#000" stroke-width="1" />
<path d="M396.6,323.6 L396.6,315.4 L475,315.4" fill="none" stroke="#000" stroke-width="1" />
<circle cx="102.4" cy="319.4" r="2.1" fill="none" stroke="#000" stroke-width="0.8"/>
<line x1="99.70000000000002" y1="319.4" x2="105.1" y2="319.4" stroke="#000" stroke-width="0.6"/>
<line x1="102.4" y1="316.69999999999993" x2="102.4" y2="322.1" stroke="#000" stroke-width="0.6"/>
<circle cx="203.4" cy="319.4" r="2.1" fill="none" stroke="#000" stroke-width="0.8"/>
<line x1="200.70000000000002" y1="319.4" x2="206.1" y2="319.4" stroke="#000" stroke-width="0.6"/>
<line x1="203.4" y1="316.69999999999993" x2="203.4" y2="322.1" stroke="#000" stroke-width="0.6"/>
<circle cx="305.2" cy="319.4" r="2.1" fill="none" stroke="#000" stroke-width="0.8"/>
<line x1="302.49999999999994" y1="319.4" x2="307.90000000000003" y2="319.4" stroke="#000" stroke-width="0.6"/>
<line x1="305.2" y1="316.69999999999993" x2="305.2" y2="322.1" stroke="#000" stroke-width="0.6"/>
<circle cx="406.4" cy="319.4" r="2.1" fill="none" stroke="#000" stroke-width="0.8"/>
<line x1="403.69999999999993" y1="319.4" x2="409.1" y2="319.4" stroke="#000" stroke-width="0.6"/>
<line x1="406.4" y1="316.69999999999993" x2="406.4" y2="322.1" stroke="#000" stroke-width="0.6"/>
<path d="M193,407.3 L193,415.6 L215,415.6 L215,407.3" fill="none" stroke="#000" stroke-width="1" />
<path d="M294.8,407.3 L294.8,415.6 L315.6,415.6 L315.6,407.3" fill="none" stroke="#000" stroke-width="1" />
<path d="M396.2,407.3 L396.2,415.5 L475,415.5" fill="none" stroke="#000" stroke-width="1" />
<circle cx="203.5" cy="411.3" r="2.1" fill="none" stroke="#000" stroke-width="0.8"/>
<line x1="200.8" y1="411.3" x2="206.2" y2="411.3" stroke="#000" stroke-width="0.6"/>
<line x1="203.5" y1="408.59999999999997" x2="203.5" y2="414.00000000000006" stroke="#000" stroke-width="0.6"/>
<circle cx="305.2" cy="411.3" r="2.1" fill="none" stroke="#000" stroke-width="0.8"/>
<line x1="302.49999999999994" y1="411.3" x2="307.90000000000003" y2="411.3" stroke="#000" stroke-width="0.6"/>
<line x1="305.2" y1="408.59999999999997" x2="305.2" y2="414.00000000000006" stroke="#000" stroke-width="0.6"/>
<circle cx="406.3" cy="411.3" r="2.1" fill="none" stroke="#000" stroke-width="0.8"/>
<line x1="403.59999999999997" y1="411.3" x2="409.00000000000006" y2="411.3" stroke="#000" stroke-width="0.6"/>
<line x1="406.3" y1="408.59999999999997" x2="406.3" y2="414.00000000000006" stroke="#000" stroke-width="0.6"/>
<line x1="92.2" y1="323.6" x2="417.8" y2="323.6" stroke="#000" stroke-width="1.2"/>
<line x1="108.7" y1="330.5" x2="185.2" y2="330.5" stroke="#000" stroke-width="1"/>
<line x1="185.2" y1="330.3" x2="390.2" y2="330.3" stroke="#000" stroke-width="2"/>
<line x1="108.7" y1="323.6" x2="108.7" y2="407.3" stroke="#000" stroke-width="1"/>
<line x1="108.7" y1="399.9" x2="185.2" y2="399.9" stroke="#000" stroke-width="1"/>
<line x1="92.2" y1="407.3" x2="215" y2="407.3" stroke="#000" stroke-width="1"/>
<rect x="108.7" y="330.5" width="3.80" height="5.50" rx="0" fill="none" stroke="#000" stroke-width="0.9"/>
<circle cx="129.5" cy="328" r="1.2" fill="none" stroke="#000" stroke-width="0.8"/>
<line x1="185.6" y1="330.5" x2="185.6" y2="400" stroke="#000" stroke-width="1"/>
<line x1="187.7" y1="331.5" x2="187.7" y2="399" stroke="#000" stroke-width="1"/>
<rect x="196.2" y="336.6" width="28.90" height="12.90" rx="0" fill="none" stroke="#000" stroke-width="1.3"/>
<rect x="316.6" y="336.6" width="28.70" height="12.90" rx="0" fill="none" stroke="#000" stroke-width="1.3"/>
<rect x="261.7" y="323.6" width="2.50" height="6.70" rx="0" fill="#aaa" stroke="#000" stroke-width="0.8"/>
<line x1="65.6" y1="365.8" x2="181" y2="365.8" stroke="#000" stroke-width="1"/>
<line x1="185.7" y1="365.8" x2="190.6" y2="365.8" stroke="#000" stroke-width="1"/>
<line x1="196.3" y1="365.8" x2="260.3" y2="365.8" stroke="#000" stroke-width="1"/>
<line x1="266.1" y1="365.8" x2="270.9" y2="365.8" stroke="#000" stroke-width="1"/>
<line x1="276.7" y1="365.8" x2="342" y2="365.8" stroke="#000" stroke-width="1"/>
<line x1="347.8" y1="365.8" x2="423" y2="365.8" stroke="#000" stroke-width="1"/>
<path d="M87.8,336.6 L70.2,336.6 M70.2,442.2 L87.8,442.2" fill="none" stroke="#000" stroke-width="1" />
<rect x="76.2" y="340" width="10.30" height="51.00" rx="0" fill="none" stroke="#000" stroke-width="1.2"/>
<line x1="78" y1="340" x2="78" y2="391" stroke="#000" stroke-width="0.85"/>
<line x1="79.8" y1="340" x2="79.8" y2="391" stroke="#000" stroke-width="0.85"/>
<line x1="81.5" y1="340" x2="81.5" y2="391" stroke="#000" stroke-width="0.85"/>
<line x1="83.1" y1="340" x2="83.1" y2="391" stroke="#000" stroke-width="0.85"/>
<line x1="84.8" y1="340" x2="84.8" y2="391" stroke="#000" stroke-width="0.85"/>
<path d="M76.2,361.4 A3.3,4.5 0 0 0 76.2,370.4" fill="none" stroke="#000" stroke-width="1" />
<line x1="77.2" y1="391" x2="77.2" y2="425.1" stroke="#000" stroke-width="1"/>
<line x1="85.9" y1="391" x2="85.9" y2="425.1" stroke="#000" stroke-width="1"/>
<line x1="79" y1="391" x2="79" y2="425.1" stroke="#000" stroke-width="0.8"/>
<line x1="80.8" y1="391" x2="80.8" y2="425.1" stroke="#000" stroke-width="0.8"/>
<line x1="82.5" y1="391" x2="82.5" y2="425.1" stroke="#000" stroke-width="0.8"/>
<line x1="84.2" y1="391" x2="84.2" y2="425.1" stroke="#000" stroke-width="0.8"/>
<rect x="76.3" y="425.3" width="9.70" height="14.20" rx="1.2" fill="#bbb" stroke="#000" stroke-width="1.2"/>
<line x1="78" y1="425.3" x2="78" y2="439.5" stroke="#000" stroke-width="0.8"/>
<line x1="79.7" y1="425.3" x2="79.7" y2="439.5" stroke="#000" stroke-width="0.8"/>
<line x1="81.3" y1="425.3" x2="81.3" y2="439.5" stroke="#000" stroke-width="0.8"/>
<line x1="82.9" y1="425.3" x2="82.9" y2="439.5" stroke="#000" stroke-width="0.8"/>
<line x1="84.5" y1="425.3" x2="84.5" y2="439.5" stroke="#000" stroke-width="0.8"/>
<line x1="86.5" y1="363.2" x2="94.5" y2="363.2" stroke="#000" stroke-width="0.8"/>
<line x1="86.5" y1="368.4" x2="94.5" y2="368.4" stroke="#000" stroke-width="0.8"/>
<rect x="94.3" y="352.5" width="12.70" height="25.50" rx="1" fill="none" stroke="#000" stroke-width="1.1"/>
<rect x="95.9" y="358.2" width="9.70" height="14.90" rx="0" fill="none" stroke="#000" stroke-width="1"/>
<line x1="94.5" y1="356" x2="107" y2="356" stroke="#000" stroke-width="0.7"/>
<line x1="94.5" y1="375.4" x2="107" y2="375.4" stroke="#000" stroke-width="0.7"/>
<line x1="99.3" y1="358.2" x2="99.3" y2="373.1" stroke="#000" stroke-width="0.8"/>
<line x1="103.8" y1="358.2" x2="103.8" y2="373.1" stroke="#000" stroke-width="0.8"/>
<line x1="107" y1="363.6" x2="112.9" y2="363.6" stroke="#000" stroke-width="0.8"/>
<line x1="107" y1="368" x2="112.9" y2="368" stroke="#000" stroke-width="0.8"/>
<rect x="112.6" y="358.8" width="3.70" height="13.00" rx="0" fill="none" stroke="#000" stroke-width="1"/>
<rect x="116.3" y="339.4" width="4.80" height="51.60" rx="0" fill="none" stroke="#000" stroke-width="1.1"/>
<line x1="117.9" y1="339.4" x2="117.9" y2="391" stroke="#000" stroke-width="0.7"/>
<line x1="99.5" y1="378" x2="99.5" y2="405.6" stroke="#000" stroke-width="0.7"/>
<line x1="101.4" y1="378" x2="101.4" y2="405.6" stroke="#000" stroke-width="0.7"/>
<line x1="99.5" y1="325.2" x2="99.5" y2="352.9" stroke="#000" stroke-width="0.7"/>
<line x1="101.4" y1="325.2" x2="101.4" y2="352.9" stroke="#000" stroke-width="0.7"/>
<line x1="92.6" y1="325.2" x2="108.4" y2="325.2" stroke="#000" stroke-width="0.8"/>
<rect x="99.3" y="329.3" width="2.30" height="5.70" rx="0" fill="none" stroke="#000" stroke-width="0.7"/>
<line x1="120.6" y1="407.3" x2="120.6" y2="420.3" stroke="#000" stroke-width="1"/>
<line x1="121.1" y1="343.4" x2="186" y2="343.4" stroke="#000" stroke-width="0.9"/>
<line x1="121.1" y1="388.5" x2="186" y2="388.5" stroke="#000" stroke-width="0.9"/>
<rect x="126.3" y="339.4" width="51.50" height="51.90" rx="0" fill="none" stroke="#000" stroke-width="1.3"/>
<rect x="128.4" y="341.5" width="47.30" height="48.20" rx="0" fill="none" stroke="#000" stroke-width="1.2"/>
<line x1="129.5" y1="339.4" x2="129.5" y2="391.3" stroke="#000" stroke-width="0.7"/>
<line x1="174.1" y1="339.4" x2="174.1" y2="391.3" stroke="#000" stroke-width="0.7"/>
<rect x="132.3" y="346.6" width="38.30" height="37.40" rx="1" fill="none" stroke="#000" stroke-width="1.4"/>
<line x1="132.3" y1="358.7" x2="170.6" y2="358.7" stroke="#000" stroke-width="1"/>
<line x1="132.3" y1="371.8" x2="170.6" y2="371.8" stroke="#000" stroke-width="1"/>
<path d="M135.1,347.9 C138,351 139.5,360 141.5,368 C144,378 146,383 148.6,382.9 C151.5,382.8 152.5,374 154.2,367.8 C156.5,360 158.5,355 160.6,351.9 C162.5,348.6 164,347.4 165.3,347.4 C167.5,347.4 169,350 169.8,352.7" fill="none" stroke="#000" stroke-width="1" />
<path d="M151.8,372.6 C153.5,368 155,365 157.4,362.7 C159.5,360.6 161.5,359.4 163.8,358.7" fill="none" stroke="#000" stroke-width="0.9" />
<circle cx="129.5" cy="343.4" r="1.5" fill="#000"/>
<circle cx="129.5" cy="388.5" r="1.5" fill="#000"/>
<circle cx="144.3" cy="343.4" r="1.5" fill="#000"/>
<circle cx="144.3" cy="388.5" r="1.5" fill="#000"/>
<circle cx="159" cy="343.4" r="1.5" fill="#000"/>
<circle cx="159" cy="388.5" r="1.5" fill="#000"/>
<circle cx="174.1" cy="343.4" r="1.5" fill="#000"/>
<circle cx="174.1" cy="388.5" r="1.5" fill="#000"/>
<circle cx="129.5" cy="358.2" r="1.5" fill="#000"/>
<circle cx="174.1" cy="358.2" r="1.5" fill="#000"/>
<circle cx="129.5" cy="372.9" r="1.5" fill="#000"/>
<circle cx="174.1" cy="372.9" r="1.5" fill="#000"/>
<line x1="151.4" y1="324.6" x2="151.4" y2="339.4" stroke="#000" stroke-width="2.6"/>
<line x1="151.4" y1="328.5" x2="151.4" y2="335" stroke="#bbb" stroke-width="1"/>
<line x1="151.6" y1="339.4" x2="151.6" y2="391.3" stroke="#000" stroke-width="1"/>
<line x1="151.5" y1="391.3" x2="151.5" y2="407.3" stroke="#000" stroke-width="2.6"/>
<line x1="151.6" y1="407.3" x2="151.6" y2="410.6" stroke="#000" stroke-width="1"/>
<circle cx="215.7" cy="365.2" r="4" fill="none" stroke="#000" stroke-width="1"/>
<line x1="215.7" y1="359.6" x2="215.7" y2="370.4" stroke="#000" stroke-width="0.8"/>
<circle cx="232.6" cy="365.2" r="4" fill="none" stroke="#000" stroke-width="1"/>
<line x1="232.6" y1="359.6" x2="232.6" y2="370.4" stroke="#000" stroke-width="0.8"/>
<circle cx="249.6" cy="365.2" r="4" fill="none" stroke="#000" stroke-width="1"/>
<line x1="249.6" y1="359.6" x2="249.6" y2="370.4" stroke="#000" stroke-width="0.8"/>
<line x1="214.2" y1="369" x2="214.2" y2="407" stroke="#000" stroke-width="1.3"/>
<line x1="217.4" y1="369" x2="217.4" y2="407" stroke="#000" stroke-width="1.3"/>
<line x1="231.4" y1="369" x2="231.4" y2="407.6" stroke="#000" stroke-width="1.3"/>
<line x1="234.5" y1="369" x2="234.5" y2="407.6" stroke="#000" stroke-width="1.3"/>
<line x1="233" y1="407" x2="233" y2="410.4" stroke="#000" stroke-width="0.8"/>
<line x1="248.8" y1="369" x2="248.8" y2="375" stroke="#000" stroke-width="1.1"/>
<line x1="251.4" y1="369" x2="251.4" y2="375" stroke="#000" stroke-width="1.1"/>
<line x1="234.5" y1="375.7" x2="247" y2="375.7" stroke="#000" stroke-width="1.1"/>
<line x1="234.5" y1="378.3" x2="247" y2="378.3" stroke="#000" stroke-width="1.1"/>
<rect x="247.2" y="374.6" width="4.60" height="5.00" rx="1.8" fill="none" stroke="#000" stroke-width="1"/>
<line x1="212.6" y1="393.5" x2="236.4" y2="393.5" stroke="#000" stroke-width="0.9"/>
<rect x="212.8" y="392" width="6.00" height="3.20" rx="0" fill="none" stroke="#000" stroke-width="0.9"/>
<rect x="230" y="392" width="6.00" height="3.20" rx="0" fill="none" stroke="#000" stroke-width="0.9"/>
<line x1="217" y1="402.6" x2="288.4" y2="402.6" stroke="#000" stroke-width="1.1"/>
<line x1="219" y1="404.6" x2="288.4" y2="404.6" stroke="#000" stroke-width="0.9"/>
<line x1="217" y1="406.6" x2="288.4" y2="406.6" stroke="#000" stroke-width="1.1"/>
<line x1="279.4" y1="401" x2="279.4" y2="407.4" stroke="#000" stroke-width="0.8"/>
<line x1="282.4" y1="397" x2="282.4" y2="407.6" stroke="#000" stroke-width="0.9"/>
<circle cx="293.2" cy="403.5" r="5.1" fill="#fff" stroke="#000" stroke-width="1"/>
<line x1="293.6" y1="396" x2="293.6" y2="410.6" stroke="#000" stroke-width="0.9"/>
<line x1="185.2" y1="399.8" x2="356" y2="399.8" stroke="#000" stroke-width="2.2"/>
<line x1="298.8" y1="402.4" x2="310.6" y2="402.4" stroke="#000" stroke-width="1.4"/>
<line x1="298.8" y1="404.5" x2="310.6" y2="404.5" stroke="#000" stroke-width="0.9"/>
<line x1="298.8" y1="406.6" x2="310.6" y2="406.6" stroke="#000" stroke-width="1.4"/>
<circle cx="315.4" cy="403.5" r="5" fill="#fff" stroke="#000" stroke-width="1"/>
<line x1="315.6" y1="396.6" x2="315.6" y2="410.4" stroke="#000" stroke-width="0.9"/>
<line x1="205" y1="399.8" x2="330" y2="399.8" stroke="#000" stroke-width="2.2"/>
<line x1="320.4" y1="402.3" x2="353.8" y2="402.3" stroke="#000" stroke-width="1.3"/>
<line x1="320.4" y1="404.5" x2="353.8" y2="404.5" stroke="#000" stroke-width="0.8"/>
<line x1="320.4" y1="406.7" x2="353.8" y2="406.7" stroke="#000" stroke-width="1.1"/>
<line x1="337.6" y1="397.3" x2="337.6" y2="408.8" stroke="#000" stroke-width="0.9"/>
<rect x="336" y="402.4" width="3.60" height="4.20" rx="0" fill="none" stroke="#000" stroke-width="0.8"/>
<path d="M291.6,408.4 L290.8,410.8 M296.4,408.6 L297.6,410.2" fill="none" stroke="#000" stroke-width="0.8" />
<path d="M208.3,415.4 L228.5,435.9 L252,435.9" fill="none" stroke="#000" stroke-width="1" />
<polygon points="0,0 -5,-0.9 -5,0.9" fill="#000" transform="translate(207.6 414.6) rotate(225.4)"/>
<text x="243.5" y="428.4" font-family="Liberation Serif, serif" font-size="11.5" font-weight="normal" text-anchor="middle" fill="#000" stroke="#000" stroke-width="0.3" textLength="12" lengthAdjust="spacingAndGlyphs">n-d</text>
<line x1="355" y1="366" x2="355" y2="404" stroke="#000" stroke-width="1"/>
<polygon points="355,366 354.0,373.5 356.0,373.5" fill="#000"/>
<polygon points="355,399.5 354.0,392.0 356.0,392.0" fill="#000"/>
<text x="348.8" y="384.7" font-family="Liberation Serif, serif" font-size="9.8" font-weight="bold" text-anchor="middle" fill="#000" stroke="#000" stroke-width="0.5" textLength="9.6" lengthAdjust="spacingAndGlyphs" transform="rotate(-90 348.8 384.7)">E2</text>
<line x1="377.1" y1="331.9" x2="377.1" y2="335.2" stroke="#000" stroke-width="1"/>
<line x1="377.1" y1="339.8" x2="377.1" y2="405.8" stroke="#000" stroke-width="1"/>
<path d="M357.1,398.8 C359,395.6 361,393 363.4,391.8 C366.5,390.2 369.5,389.6 373.1,388.4 C377,387 380,385.8 382.9,384.2 C385.6,382.6 388,380.6 389.9,378.6" fill="none" stroke="#000" stroke-width="1" />
<path d="M367.6,394.6 L388.5,394.6 L388.5,381.6 C385,385 380,387.6 375.6,389.4 C372,390.8 369.4,392.2 367.6,394.6" fill="none" stroke="#000" stroke-width="0.8" />
<line x1="357" y1="398.7" x2="390" y2="398.7" stroke="#000" stroke-width="1.6" stroke-dasharray="1.2 0.9"/>
<line x1="355" y1="400.2" x2="390" y2="400.2" stroke="#000" stroke-width="0.8"/>
<line x1="355.5" y1="407.3" x2="396.2" y2="407.3" stroke="#000" stroke-width="1"/>
<line x1="353.8" y1="404" x2="358.3" y2="404" stroke="#000" stroke-width="0.8"/>
<line x1="367" y1="400.2" x2="367" y2="407.3" stroke="#000" stroke-width="0.8"/>
<line x1="368.6" y1="400.2" x2="368.6" y2="407.3" stroke="#000" stroke-width="0.8"/>
<line x1="384.3" y1="400.2" x2="384.3" y2="407.3" stroke="#000" stroke-width="0.8"/>
<line x1="386" y1="400.2" x2="386" y2="407.3" stroke="#000" stroke-width="0.8"/>
<rect x="367.1" y="323.6" width="18.20" height="6.70" rx="0" fill="none" stroke="#000" stroke-width="0.9"/>
<line x1="368.5" y1="323.6" x2="368.5" y2="330.3" stroke="#000" stroke-width="0.7"/>
<line x1="384" y1="323.6" x2="384" y2="330.3" stroke="#000" stroke-width="0.7"/>
<rect x="389.9" y="327.4" width="3.10" height="76.20" rx="0" fill="#bbb" stroke="#000" stroke-width="1.5"/>
<line x1="400.5" y1="323.6" x2="400.5" y2="405" stroke="#000" stroke-width="1"/>
<rect x="395.4" y="330.3" width="4.80" height="5.00" rx="0" fill="none" stroke="#000" stroke-width="0.8"/>
<rect x="396.6" y="395.3" width="3.40" height="4.70" rx="0" fill="none" stroke="#000" stroke-width="0.8"/>
<line x1="407.6" y1="325" x2="407.6" y2="352.6" stroke="#000" stroke-width="0.8"/>
<line x1="409.6" y1="325" x2="409.6" y2="352.6" stroke="#000" stroke-width="0.8"/>
<line x1="400.8" y1="325" x2="417.4" y2="325" stroke="#000" stroke-width="0.8"/>
<rect x="407" y="327" width="3.20" height="8.80" rx="0" fill="none" stroke="#000" stroke-width="0.7"/>
<rect x="402.4" y="352.5" width="12.90" height="26.00" rx="1" fill="none" stroke="#000" stroke-width="1.1"/>
<rect x="404.1" y="358.4" width="9.50" height="15.20" rx="0" fill="none" stroke="#000" stroke-width="1"/>
<line x1="402.4" y1="355.6" x2="415.3" y2="355.6" stroke="#000" stroke-width="0.7"/>
<line x1="402.4" y1="375.6" x2="415.3" y2="375.6" stroke="#000" stroke-width="0.7"/>
<line x1="406.6" y1="358.4" x2="406.6" y2="373.6" stroke="#000" stroke-width="0.8"/>
<line x1="411.4" y1="358.4" x2="411.4" y2="373.6" stroke="#000" stroke-width="0.8"/>
<rect x="393.8" y="359.1" width="2.80" height="13.20" rx="0" fill="none" stroke="#000" stroke-width="0.9"/>
<line x1="396.6" y1="363.2" x2="402.4" y2="363.2" stroke="#000" stroke-width="0.8"/>
<line x1="396.6" y1="367.5" x2="402.4" y2="367.5" stroke="#000" stroke-width="0.8"/>
<line x1="407.7" y1="378.5" x2="407.7" y2="405" stroke="#000" stroke-width="0.8"/>
<line x1="409.7" y1="378.5" x2="409.7" y2="405" stroke="#000" stroke-width="0.8"/>
<rect x="400.4" y="405" width="17.20" height="2.40" rx="0" fill="none" stroke="#000" stroke-width="0.8"/>
<line x1="406.4" y1="319.5" x2="448.6" y2="319.5" stroke="#000" stroke-width="1"/>
<line x1="444.8" y1="319.5" x2="444.8" y2="411.4" stroke="#000" stroke-width="1"/>
<line x1="408.6" y1="411.4" x2="448.2" y2="411.4" stroke="#000" stroke-width="1"/>
<polygon points="444.8,319.5 443.8,327.0 445.8,327.0" fill="#000"/>
<polygon points="444.8,411.4 443.8,403.9 445.8,403.9" fill="#000"/>
<line x1="471.2" y1="315.4" x2="471.2" y2="415.5" stroke="#000" stroke-width="1"/>
<polygon points="471.2,315.4 470.2,322.9 472.2,322.9" fill="#000"/>
<polygon points="471.2,415.5 470.2,408.0 472.2,408.0" fill="#000"/>
<text x="438.4" y="366" font-family="Liberation Serif, serif" font-size="9.5" font-weight="bold" text-anchor="middle" fill="#000" stroke="#000" stroke-width="0.5" textLength="9.4" lengthAdjust="spacingAndGlyphs" transform="rotate(-90 438.4 366)">E3</text>
<text x="465.2" y="366" font-family="Liberation Serif, serif" font-size="9.5" font-weight="bold" text-anchor="middle" fill="#000" stroke="#000" stroke-width="0.5" textLength="9.6" lengthAdjust="spacingAndGlyphs" transform="rotate(-90 465.2 366)">E4</text>
<rect x="86" y="429.6" width="3.00" height="6.40" rx="0" fill="none" stroke="#000" stroke-width="0.8"/>
<path d="M117.7,420.4 L91,420.4 L89,422.4 L89,442 L91,444 L117.7,444 Z" fill="none" stroke="#000" stroke-width="1.2" />
<path d="M117.7,420 L124.8,420 Q127.7,420 127.7,423 L127.7,441.6 Q127.7,444.6 124.8,444.6 L117.7,444.6 Z" fill="none" stroke="#000" stroke-width="1.1" />
<line x1="89.6" y1="422.4" x2="117.7" y2="422.4" stroke="#000" stroke-width="0.8"/>
<line x1="89.6" y1="423.8" x2="117.7" y2="423.8" stroke="#000" stroke-width="0.8"/>
<line x1="89.6" y1="426" x2="117.7" y2="426" stroke="#000" stroke-width="0.8"/>
<line x1="89.6" y1="439.2" x2="117.7" y2="439.2" stroke="#000" stroke-width="0.8"/>
<line x1="89.6" y1="441" x2="117.7" y2="441" stroke="#000" stroke-width="0.8"/>
<line x1="89.6" y1="442.6" x2="117.7" y2="442.6" stroke="#000" stroke-width="0.8"/>
<path d="M98.6,432.5 L100.6,429.4 L107.4,429.4 L109.4,432.5 L107.4,435.6 L100.6,435.6 Z" fill="none" stroke="#000" stroke-width="1" />
<rect x="101.4" y="430.5" width="5.00" height="4.50" rx="0" fill="#999" stroke="#000" stroke-width="0.9"/>
<line x1="72.2" y1="432.8" x2="124.4" y2="432.8" stroke="#000" stroke-width="0.9"/>
<line x1="92.5" y1="444" x2="92.5" y2="450.8" stroke="#000" stroke-width="1"/>
<line x1="121" y1="444" x2="121" y2="450.8" stroke="#000" stroke-width="1"/>
<polygon points="97,444.8 95.4,448.8 98.6,448.8" fill="#000"/>
<polygon points="115.4,444.8 113.80000000000001,448.8 117.0,448.8" fill="#000"/>
<line x1="97" y1="446" x2="97" y2="480.5" stroke="#000" stroke-width="1"/>
<line x1="115.4" y1="446" x2="115.4" y2="480.5" stroke="#000" stroke-width="1"/>
<line x1="84" y1="476.5" x2="129.2" y2="476.5" stroke="#000" stroke-width="1"/>
<polygon points="97,476.5 89.5,475.5 89.5,477.5" fill="#000"/>
<polygon points="115.4,476.5 122.9,475.5 122.9,477.5" fill="#000"/>
<text x="106.6" y="471" font-family="Liberation Serif, serif" font-size="9.5" font-weight="bold" text-anchor="middle" fill="#000" stroke="#000" stroke-width="0.5" textLength="8.8" lengthAdjust="spacingAndGlyphs">L6</text>
<path d="M5,0 L5,9.5 M1.6,1.6 L1.6,4.6 L8.4,4.6 L8.4,1.6 M0.8,5.6 L0.8,9.5 L9.2,9.5 L9.2,5.6" transform="translate(531.70 309.8) scale(0.693 1.050)" fill="none" stroke="#000" stroke-width="1.62" stroke-linecap="square"/>
<path d="M2.3,0 L2.3,10 M0,4 L4.8,4 M0.5,1 L1.4,3 M4.2,1 L3.3,3 M2.3,4.2 L0,8 M2.3,4.2 L4.6,7 M5.8,1.4 L6.9,2.6 M5.5,4 L6.6,5.1 M5,7.2 L10,6.2 M8.3,0 L8.3,10" transform="translate(541.00 309.8) scale(0.693 1.050)" fill="none" stroke="#000" stroke-width="1.62" stroke-linecap="square"/>
<path d="M1.6,2 L8.4,2 L8.4,8.6 L1.6,8.6 Z" transform="translate(550.30 309.8) scale(0.693 1.050)" fill="none" stroke="#000" stroke-width="1.62" stroke-linecap="square"/>
<path d="M0.5,1 L1.8,2 M0,3.8 L1.5,4.8 M0.3,9.5 L2,6.5 M4.3,2 L9,2 M6.6,0 L6.6,5 M3.3,5 L10,5 M6.2,5 L4.2,9 L9,8.6 M8,7 L9.6,9.6" transform="translate(559.60 309.8) scale(0.693 1.050)" fill="none" stroke="#000" stroke-width="1.62" stroke-linecap="square"/>
<path d="M3,0.3 L4,2 M7,0.3 L6,2 M1.5,2.8 L8.5,2.8 M2.5,5.8 L7.5,5.8 M0.3,9.3 L9.7,9.3" transform="translate(568.90 309.8) scale(0.693 1.050)" fill="none" stroke="#000" stroke-width="1.62" stroke-linecap="square"/>
<text x="498" y="339.2" font-family="Liberation Serif, serif" font-size="9.6" font-weight="bold" text-anchor="middle" fill="#000" stroke="#000" stroke-width="0.5" textLength="21.5" lengthAdjust="spacingAndGlyphs">n2-d2</text>
<path d="M482.9,344.7 L519.5,344.7 L531.4,356.2" fill="none" stroke="#000" stroke-width="1" />
<polygon points="0,0 -4,-0.9 -4,0.9" fill="#000" transform="translate(531.4 356.2) rotate(44)"/>
<path d="M536,361.4 L546.5,371.3" fill="none" stroke="#000" stroke-width="0.9" />
<polygon points="0,0 -4,-0.9 -4,0.9" fill="#000" transform="translate(538 363.2) rotate(223)"/>
<text x="550.3" y="339.2" font-family="Liberation Serif, serif" font-size="9.6" font-weight="bold" text-anchor="middle" fill="#000" stroke="#000" stroke-width="0.5" textLength="11" lengthAdjust="spacingAndGlyphs">M3</text>
<line x1="532.4" y1="341.4" x2="532.4" y2="420.5" stroke="#000" stroke-width="1"/>
<line x1="567.7" y1="341.4" x2="567.7" y2="420.5" stroke="#000" stroke-width="1"/>
<line x1="532.4" y1="345.3" x2="567.7" y2="345.3" stroke="#000" stroke-width="1"/>
<polygon points="532.4,345.3 539.9,344.3 539.9,346.3" fill="#000"/>
<polygon points="567.7,345.3 560.2,344.3 560.2,346.3" fill="#000"/>
<line x1="513.7" y1="356.8" x2="567.7" y2="356.8" stroke="#000" stroke-width="1"/>
<line x1="513.7" y1="420.5" x2="567.7" y2="420.5" stroke="#000" stroke-width="1"/>
<line x1="517.6" y1="356.8" x2="517.6" y2="420.5" stroke="#000" stroke-width="1"/>
<polygon points="517.6,356.8 516.6,364.3 518.6,364.3" fill="#000"/>
<polygon points="517.6,420.5 516.6,413.0 518.6,413.0" fill="#000"/>
<text x="512" y="388.4" font-family="Liberation Serif, serif" font-size="9.5" font-weight="bold" text-anchor="middle" fill="#000" stroke="#000" stroke-width="0.5" textLength="10.6" lengthAdjust="spacingAndGlyphs" transform="rotate(-90 512 388.4)">M5</text>
<line x1="536.8" y1="356.8" x2="536.8" y2="420.5" stroke="#000" stroke-width="0.9"/>
<line x1="562.8" y1="356.8" x2="562.8" y2="420.5" stroke="#000" stroke-width="0.9"/>
<rect x="539.5" y="358.6" width="20.60" height="59.40" rx="0" fill="none" stroke="#000" stroke-width="1.2"/>
<line x1="549.9" y1="352.5" x2="549.9" y2="426" stroke="#000" stroke-width="1"/>
<circle cx="536.8" cy="361.5" r="1.4" fill="#000"/>
<circle cx="562.8" cy="361.5" r="1.4" fill="#000"/>
<line x1="533.6" y1="361.5" x2="540.2" y2="361.5" stroke="#000" stroke-width="0.7"/>
<line x1="559.4" y1="361.5" x2="566" y2="361.5" stroke="#000" stroke-width="0.7"/>
<circle cx="536.8" cy="375" r="1.4" fill="#000"/>
<circle cx="562.8" cy="375" r="1.4" fill="#000"/>
<line x1="533.6" y1="375" x2="540.2" y2="375" stroke="#000" stroke-width="0.7"/>
<line x1="559.4" y1="375" x2="566" y2="375" stroke="#000" stroke-width="0.7"/>
<circle cx="536.8" cy="388.5" r="1.4" fill="#000"/>
<circle cx="562.8" cy="388.5" r="1.4" fill="#000"/>
<line x1="533.6" y1="388.5" x2="540.2" y2="388.5" stroke="#000" stroke-width="0.7"/>
<line x1="559.4" y1="388.5" x2="566" y2="388.5" stroke="#000" stroke-width="0.7"/>
<circle cx="536.8" cy="402.4" r="1.4" fill="#000"/>
<circle cx="562.8" cy="402.4" r="1.4" fill="#000"/>
<line x1="533.6" y1="402.4" x2="540.2" y2="402.4" stroke="#000" stroke-width="0.7"/>
<line x1="559.4" y1="402.4" x2="566" y2="402.4" stroke="#000" stroke-width="0.7"/>
<circle cx="536.8" cy="416.2" r="1.4" fill="#000"/>
<circle cx="562.8" cy="416.2" r="1.4" fill="#000"/>
<line x1="533.6" y1="416.2" x2="540.2" y2="416.2" stroke="#000" stroke-width="0.7"/>
<line x1="559.4" y1="416.2" x2="566" y2="416.2" stroke="#000" stroke-width="0.7"/>
<line x1="528.2" y1="388.5" x2="572.7" y2="388.5" stroke="#000" stroke-width="1"/>
<line x1="562.8" y1="361.5" x2="593.7" y2="361.5" stroke="#000" stroke-width="1"/>
<line x1="562.8" y1="375" x2="593.7" y2="375" stroke="#000" stroke-width="1"/>
<line x1="589.4" y1="348" x2="589.4" y2="388.2" stroke="#000" stroke-width="1"/>
<polygon points="589.4,361.5 588.4,354.0 590.4,354.0" fill="#000"/>
<polygon points="589.4,375 588.4,382.5 590.4,382.5" fill="#000"/>
<text x="583.6" y="368.2" font-family="Liberation Serif, serif" font-size="9.5" font-weight="bold" text-anchor="middle" fill="#000" stroke="#000" stroke-width="0.5" textLength="11" lengthAdjust="spacingAndGlyphs" transform="rotate(-90 583.6 368.2)">M4</text>
<line x1="539.6" y1="418" x2="539.6" y2="450.3" stroke="#000" stroke-width="1"/>
<line x1="560" y1="418" x2="560" y2="450.3" stroke="#000" stroke-width="1"/>
<line x1="536.5" y1="420.5" x2="536.5" y2="472" stroke="#000" stroke-width="1"/>
<line x1="563.2" y1="420.5" x2="563.2" y2="472" stroke="#000" stroke-width="1"/>
<line x1="525.3" y1="447" x2="572.5" y2="447" stroke="#000" stroke-width="1"/>
<polygon points="539.7,447 532.2,446.0 532.2,448.0" fill="#000"/>
<polygon points="560,447 567.5,446.0 567.5,448.0" fill="#000"/>
<text x="549.6" y="441.4" font-family="Liberation Serif, serif" font-size="9.6" font-weight="bold" text-anchor="middle" fill="#000" stroke="#000" stroke-width="0.5" textLength="9.6" lengthAdjust="spacingAndGlyphs">M1</text>
<line x1="536.5" y1="469" x2="563.2" y2="469" stroke="#000" stroke-width="1"/>
<polygon points="536.5,469 544.0,468.0 544.0,470.0" fill="#000"/>
<polygon points="563.2,469 555.7,468.0 555.7,470.0" fill="#000"/>
<text x="549.6" y="463" font-family="Liberation Serif, serif" font-size="9.6" font-weight="bold" text-anchor="middle" fill="#000" stroke="#000" stroke-width="0.5" textLength="9.6" lengthAdjust="spacingAndGlyphs">M2</text>
</svg>
</body></html>
